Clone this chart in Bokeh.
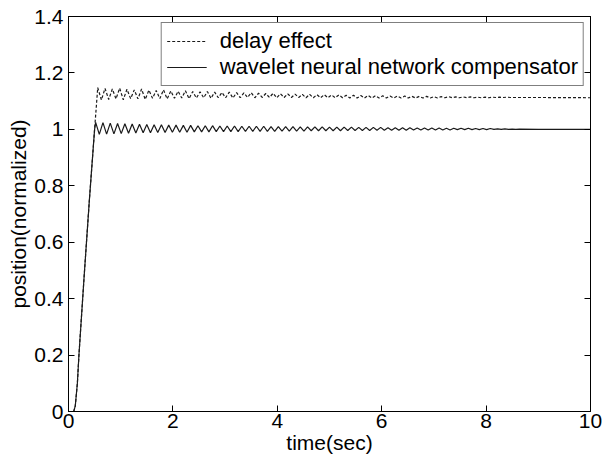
import numpy as np
from bokeh.plotting import figure
from bokeh.models import LinearAxis, FixedTicker, Legend, LegendItem, Range1d
from bokeh.embed import file_html
from bokeh.resources import INLINE

# ---------------- data ----------------
# common ramp (both responses coincide during the rise)
ramp_t = [0.0, 0.10, 0.13, 0.17, 0.20, 0.30, 0.40, 0.50]
ramp_y = [0.0, 0.00, 0.02, 0.10, 0.20, 0.48, 0.75, 1.00]

# wavelet neural network compensator: successive peaks / troughs
wnn_t0, wnn_dt = 0.52, 0.07
wnn_osc = [
    1.025, 0.982, 1.024, 0.983, 1.022, 0.984, 1.021, 0.985, 1.020, 0.986,
    1.019, 0.987, 1.018, 0.988, 1.017, 0.988, 1.016, 0.989, 1.016, 0.989,
    1.015, 0.990, 1.015, 0.990, 1.014, 0.990, 1.014, 0.991, 1.013, 0.991,
    1.013, 0.991, 1.013, 0.992, 1.012, 0.992, 1.012, 0.992, 1.012, 0.992,
    1.011, 0.993, 1.011, 0.993, 1.011, 0.993, 1.011, 0.993, 1.010, 0.993,
    1.010, 0.994, 1.010, 0.994, 1.010, 0.994, 1.009, 0.994, 1.009, 0.995,
    1.009, 0.995, 1.009, 0.995, 1.008, 0.995, 1.008, 0.995, 1.008, 0.996,
    1.008, 0.996, 1.007, 0.996, 1.007, 0.996, 1.007, 0.997, 1.007, 0.997,
    1.006, 0.997, 1.006, 0.997, 1.006, 0.997, 1.006, 0.998, 1.005, 0.998,
    1.005, 0.998, 1.005, 0.998, 1.005, 0.998, 1.004, 0.998, 1.004, 0.999,
    1.004, 0.999, 1.004, 0.999, 1.003, 0.999, 1.003, 0.999, 1.003, 1.000,
    1.002, 1.000, 1.002, 1.000, 1.001, 1.000, 1.001,
]
wnn_tail_t = [9.0, 10.0]
wnn_tail_y = [1.000, 1.000]

# delay effect: successive peaks / troughs
dly_t0, dly_dt = 0.56, 0.07
dly_osc = [
    1.148, 1.104, 1.145, 1.106, 1.143, 1.108, 1.146, 1.105, 1.142, 1.109,
    1.140, 1.108, 1.143, 1.106, 1.139, 1.110, 1.138, 1.109, 1.140, 1.108,
    1.136, 1.110, 1.135, 1.111, 1.137, 1.109, 1.134, 1.111, 1.133, 1.112,
    1.134, 1.110, 1.132, 1.112, 1.131, 1.112, 1.132, 1.111, 1.130, 1.112,
    1.129, 1.113, 1.130, 1.112, 1.128, 1.113, 1.127, 1.113, 1.128, 1.112,
    1.126, 1.113, 1.126, 1.113, 1.125, 1.113, 1.124, 1.112, 1.124, 1.112,
    1.123, 1.112, 1.123, 1.112, 1.122, 1.112, 1.122, 1.112, 1.121, 1.111,
    1.121, 1.111, 1.120, 1.111, 1.120, 1.111, 1.119, 1.111, 1.119, 1.111,
    1.118, 1.111, 1.118, 1.111, 1.118, 1.111, 1.117, 1.111, 1.117, 1.111,
    1.117, 1.111, 1.116, 1.111, 1.116, 1.112, 1.116, 1.112, 1.115, 1.112,
    1.115, 1.112, 1.115, 1.112, 1.114, 1.112, 1.114, 1.112, 1.114, 1.113,
    1.114, 1.113, 1.114, 1.113, 1.113, 1.113, 1.113,
]
dly_tail_t = [9.0, 10.0]
dly_tail_y = [1.113, 1.112]

x_ticks = [0, 2, 4, 6, 8, 10]
y_ticks = [0, 0.2, 0.4, 0.6, 0.8, 1.0, 1.2, 1.4]
y_tick_labels = ["0", "0.2", "0.4", "0.6", "0.8", "1", "1.2", "1.4"]
legend_labels = ["delay effect", "wavelet neural network compensator"]
x_label = "time(sec)"
y_label = "position(normalized)"

# ---------------- assemble series ----------------
wnn_t = ramp_t + list(np.round(wnn_t0 + wnn_dt * np.arange(len(wnn_osc)), 3)) + wnn_tail_t
wnn_y = ramp_y + wnn_osc + wnn_tail_y
dly_t = ramp_t + list(np.round(dly_t0 + dly_dt * np.arange(len(dly_osc)), 3)) + dly_tail_t
dly_y = ramp_y + dly_osc + dly_tail_y

FONT = "Liberation Sans"
FS = "21px"
LFS = "22px"
LINE_COLOR = "#1a1a1a"

p = figure(width=615, height=456, output_backend="svg", toolbar_location=None,
           x_range=Range1d(0, 10), y_range=Range1d(0, 1.4),
           min_border_left=68, min_border_right=25, min_border_top=16, min_border_bottom=43)
p.background_fill_color = "white"
p.border_fill_color = "white"
p.outline_line_color = "black"
p.outline_line_width = 1
p.xgrid.visible = False
p.ygrid.visible = False

r_dly = p.line(dly_t, dly_y, line_color=LINE_COLOR, line_width=1.2, line_dash="3 2")
r_wnn = p.line(wnn_t, wnn_y, line_color=LINE_COLOR, line_width=1.2)

def style_axis(ax, ticks, show_labels=True):
    ax.ticker = FixedTicker(ticks=ticks)
    ax.major_tick_in = 6
    ax.major_tick_out = 0
    ax.minor_tick_in = 0
    ax.minor_tick_out = 0
    ax.axis_line_color = "black"
    ax.major_tick_line_color = "black"
    ax.major_label_text_font = FONT
    ax.major_label_text_color = "black"
    ax.major_label_text_font_size = FS
    ax.axis_label_text_font = FONT
    ax.axis_label_text_font_style = "normal"
    ax.axis_label_text_color = "black"
    ax.axis_label_text_font_size = FS
    if not show_labels:
        ax.major_label_overrides = {t: "" for t in ticks}
        ax.major_label_standoff = 0

xa = p.xaxis[0]
ya = p.yaxis[0]
style_axis(xa, x_ticks)
style_axis(ya, y_ticks)
xa.axis_label = x_label
ya.axis_label = y_label
xa.major_label_standoff = 2
xa.axis_label_standoff = 0
ya.major_label_standoff = 5
ya.axis_label_standoff = 1
ya.major_label_overrides = {t: s for t, s in zip(y_ticks, y_tick_labels)}

top = LinearAxis()
style_axis(top, x_ticks, show_labels=False)
p.add_layout(top, "above")
right = LinearAxis()
style_axis(right, y_ticks, show_labels=False)
p.add_layout(right, "right")

legend = Legend(items=[LegendItem(label=legend_labels[0], renderers=[r_dly]),
                       LegendItem(label=legend_labels[1], renderers=[r_wnn])],
                location="top_right")
legend.margin = 6
legend.padding = 5
legend.spacing = 0
legend.glyph_width = 40
legend.glyph_height = 22
legend.label_height = 22
legend.label_standoff = 13
legend.label_text_font = FONT
legend.label_text_font_size = LFS
legend.label_text_color = "black"
legend.border_line_color = "black"
legend.border_line_width = 1
legend.background_fill_color = "white"
legend.background_fill_alpha = 1.0
p.add_layout(legend)

open("out.html", "w").write(file_html(p, INLINE))
